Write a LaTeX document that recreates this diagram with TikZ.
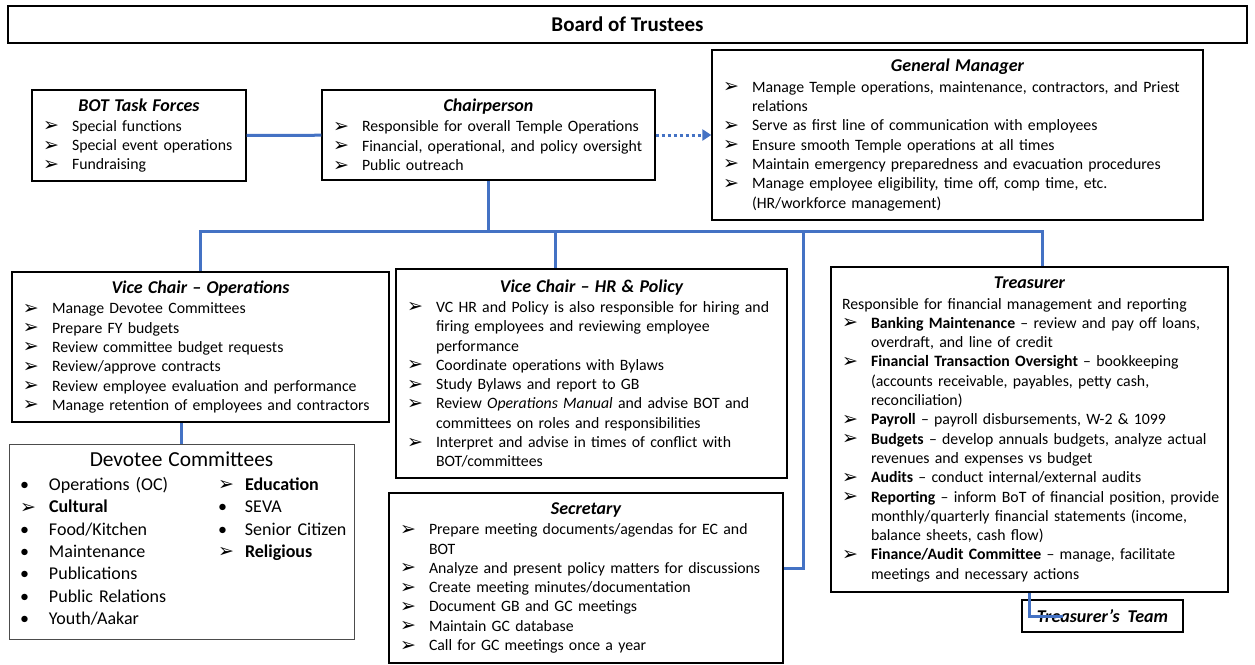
\documentclass[tikz,border=0pt]{standalone}
\usepackage{fontspec}
\setmainfont{Carlito}
\newfontfamily\symfont{DejaVu Sans}
\usetikzlibrary{arrows.meta}
\definecolor{linkblue}{HTML}{4472C4}
\setlength{\parindent}{0pt}
\hyphenpenalty=10000
\exhyphenpenalty=10000
\newcommand{\arrowbul}{\raisebox{-0.5pt}{\symfont\fontsize{19}{19}\selectfont ➢}}
\newcommand{\itm}{\par\hangindent=29pt\hangafter=1\noindent\makebox[29pt][l]{\arrowbul}}
\newcommand{\hd}[1]{{\centering\fontsize{18}{22}\selectfont\bfseries\itshape #1\par}\vskip1pt\leftskip=7pt}

\begin{document}
\begin{tikzpicture}[x=1pt, y=-1pt,
  box/.style={draw, line width=1.3pt, fill=white, align=left, inner xsep=4pt, inner ysep=3pt,
    font=\fontsize{15.8}{19.3}\selectfont},
  bluelink/.style={draw=linkblue, line width=3pt},
  dotlink/.style={bluelink, dash pattern=on 3pt off 3pt, -{Triangle[length=9pt,width=11pt]}}]
  \useasboundingbox (0,0) rectangle (1255,664);

  \node[box, minimum width=1239pt, minimum height=37pt, align=center,
    font=\fontsize{21}{24}\selectfont\bfseries] (bot) at (627.5,24.5) {Board of Trustees};

  \node[box, text width=206pt, minimum height=91pt] (tforce) at (139,135.5) {\hd{BOT Task Forces}%
    \itm Special functions
    \itm Special event operations
    \itm Fundraising\par};
  \node[box, text width=325pt, minimum height=90pt] (chair) at (488.5,135) {\hd{Chairperson}%
    \itm Responsible for overall Temple Operations
    \itm Financial, operational, and policy oversight
    \itm Public outreach\par};
  \node[box, text width=483pt, minimum height=170pt] (gm) at (957.5,135) {\hd{General Manager}%
    \itm Manage Temple operations, maintenance, contractors, and Priest\newline relations
    \itm Serve as first line of communication with employees
    \itm Ensure smooth Temple operations at all times
    \itm Maintain emergency preparedness and evacuation procedures
    \itm Manage employee eligibility, time off, comp time, etc.\newline (HR/workforce management)\par};

  \node[box, text width=369pt, minimum height=150pt] (vcops) at (200.5,347) {\hd{Vice Chair -- Operations}%
    \itm Manage Devotee Committees
    \itm Prepare FY budgets
    \itm Review committee budget requests
    \itm Review/approve contracts
    \itm Review employee evaluation and performance
    \itm Manage retention of employees and contractors\par};
  \node[box, text width=383pt, minimum height=209pt] (vchr) at (591.5,373.5) {\hd{Vice Chair -- HR \& Policy}%
    \itm VC HR and Policy is also responsible for hiring and\newline firing employees and reviewing employee\newline performance
    \itm Coordinate operations with Bylaws
    \itm Study Bylaws and report to GB
    \itm Review \textit{Operations Manual} and advise BOT and\newline committees on roles and responsibilities
    \itm Interpret and advise in times of conflict with\newline BOT/committees\par};
  \node[box, text width=389pt, minimum height=325pt] (treas) at (1029.5,429.5) {\hd{Treasurer}%
    \noindent Responsible for financial management and reporting
    \itm \textbf{Banking Maintenance} -- review and pay off loans,\newline overdraft, and line of credit
    \itm \textbf{Financial Transaction Oversight} -- bookkeeping\newline (accounts receivable, payables, petty cash,\newline reconciliation)
    \itm \textbf{Payroll} -- payroll disbursements, W-2 \& 1099
    \itm \textbf{Budgets} -- develop annuals budgets, analyze actual\newline revenues and expenses vs budget
    \itm \textbf{Audits} -- conduct internal/external audits
    \itm \textbf{Reporting} -- inform BoT of financial position, provide\newline monthly/quarterly financial statements (income,\newline balance sheets, cash flow)
    \itm \textbf{Finance/Audit Committee} -- manage, facilitate\newline meetings and necessary actions\par};

  \node[box, text width=337pt, minimum height=195pt, line width=0.9pt, draw=black!70,
    font=\fontsize{18}{22.4}\selectfont] (dev) at (181.5,541.5) {%
    {\centering\fontsize{21.4}{25}\selectfont Devotee Committees\par}\vskip7pt
    \leftskip=7pt
    \begin{tabular}{@{}p{29pt}@{}p{169pt}@{}p{27pt}@{}l@{}}
      • & Operations (OC) & \arrowbul & \textbf{Education}\\
      \arrowbul & \textbf{Cultural} & • & SEVA\\
      • & Food/Kitchen & • & Senior Citizen\\
      • & Maintenance & \arrowbul & \textbf{Religious}\\
      • & Publications & & \\
      • & Public Relations & & \\
      • & Youth/Aakar & &
    \end{tabular}\par};
  \node[box, text width=386pt, minimum height=170pt] (sec) at (586,578) {\hd{Secretary}%
    \itm Prepare meeting documents/agendas for EC and\newline BOT
    \itm Analyze and present policy matters for discussions
    \itm Create meeting minutes/documentation
    \itm Document GB and GC meetings
    \itm Maintain GC database
    \itm Call for GC meetings once a year\par};
  \node[box, minimum width=161pt, minimum height=32pt, align=center,
    font=\fontsize{18}{22}\selectfont\bfseries\itshape] (team) at (1102.5,616) {Treasurer’s~~Team};

  \coordinate (hrdrop) at (555,231);
  \coordinate (scdrop) at (803,231);
  \coordinate (trdrop) at (1042,231);

  \draw[bluelink] (tforce) -- (chair);
  \draw[dotlink] (chair.east) -- (gm.west);
  \draw[bluelink] (chair.south) -- (chair.south |- trdrop);
  \draw[bluelink] (vcops.north) |- (trdrop) -- (trdrop |- treas.north);
  \draw[bluelink] (hrdrop) -- (hrdrop |- vchr.north);
  \draw[bluelink] (scdrop) |- ([yshift=10pt]sec.east);
  \draw[bluelink] (dev.north) -- (dev.north |- vcops.south);
  \draw[bluelink] (treas.south) |- ([xshift=-40pt]team.center);
\end{tikzpicture}
\end{document}
